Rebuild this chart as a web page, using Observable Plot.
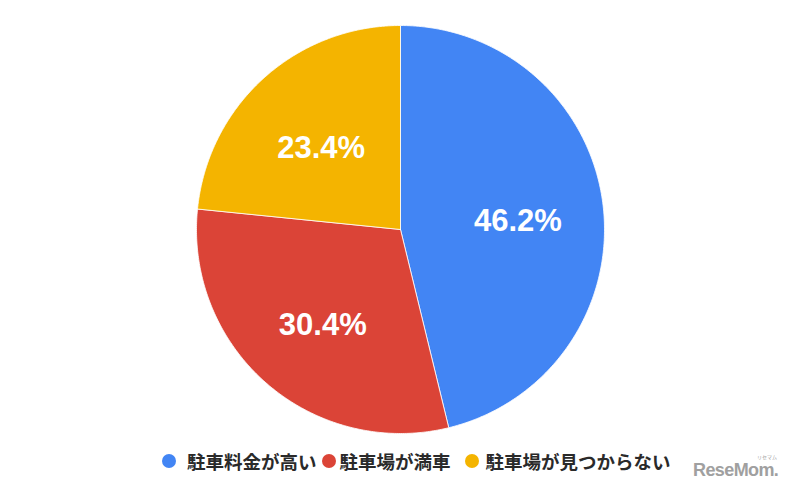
<!DOCTYPE html>
<html>
<head>
<meta charset="utf-8">
<script src="https://cdn.jsdelivr.net/npm/d3@7"></script>
<script src="https://cdn.jsdelivr.net/npm/@observablehq/plot@0.6"></script>
<style>
  html, body { margin: 0; padding: 0; background: #fff; }
  #wrap { position: relative; width: 800px; height: 495px; overflow: hidden; }
  #legend { position: absolute; left: 162px; top: 449px; display: flex; align-items: center;
    font-family: "Noto Sans CJK JP", sans-serif; font-size: 18.5px; font-weight: 700; color: #2a2a2a; height: 24px; }
  .item { display: flex; align-items: center; }
  .sw { width: 14px; height: 14px; border-radius: 50%; }
  #mark { position: absolute; left: 693px; top: 460px; width: 100px; white-space: nowrap; font-family: "Liberation Sans", Arial, sans-serif; color: #a0a0a0; }
  #mark .big { font-size: 18px; line-height: 20px; font-weight: bold; letter-spacing: -0.6px; }
  #mark .small { position: absolute; left: 64px; top: -6px; white-space: nowrap; font-size: 5px; line-height: 5px; font-family: "Noto Sans CJK JP", sans-serif; }
</style>
</head>
<body>
<div id="wrap">
  <div id="chart"></div>
  <div id="legend"></div>
  <div id="mark"><span class="small">リセマム</span><span class="big">ReseMom.</span></div>
</div>
<script>
const categories = ["駐車料金が高い", "駐車場が満車", "駐車場が見つからない"];
const values = [46.2, 30.4, 23.4];
const colors = ["#4285F4", "#DB4437", "#F4B400"];
const labels = ["46.2%", "30.4%", "23.4%"];

const W = 800, H = 440, R = 204, CX = 400, CY = 229;
const total = d3.sum(values);

// wedge outlines in unit-circle coordinates (clockwise from 12 o'clock)
const pts = [];
const labelPts = [];
let start = 0;
categories.forEach((cat, i) => {
  const a0 = start / total * 2 * Math.PI;
  const a1 = (start + values[i]) / total * 2 * Math.PI;
  pts.push({cat, x: 0, y: 0});
  const n = 200;
  for (let k = 0; k <= n; k++) {
    const a = a0 + (a1 - a0) * k / n;
    pts.push({cat, x: Math.sin(a), y: Math.cos(a)});
  }
  pts.push({cat, x: 0, y: 0});
  const am = (a0 + a1) / 2;
  const r = 0.58;
  labelPts.push({cat, text: labels[i], x: r * Math.sin(am), y: r * Math.cos(am)});
  start += values[i];
});

const chart = Plot.plot({
  width: W,
  height: H,
  margin: 0,
  x: {domain: [-CX / R, (W - CX) / R], axis: null},
  y: {domain: [-(H - CY) / R, CY / R], axis: null},
  color: {domain: categories, range: colors},
  marks: [
    Plot.line(pts, {x: "x", y: "y", z: "cat", fill: "cat", stroke: "white", strokeWidth: 0.8, curve: "linear"}),
    Plot.text(labelPts, {x: "x", y: "y", text: "text", fill: "white", fontSize: 31, fontWeight: "bold", dy: 6,
      fontFamily: "'Liberation Sans', Arial, sans-serif"})
  ]
});
document.getElementById("chart").appendChild(chart);

const gaps = [[11, 5], [4, 14], [7, 0]]; // [swatch-to-text, after-item]
const legend = document.getElementById("legend");
categories.forEach((c, i) => {
  const it = document.createElement("div");
  it.className = "item";
  it.style.marginRight = gaps[i][1] + "px";
  const sw = document.createElement("span");
  sw.className = "sw";
  sw.style.background = colors[i];
  sw.style.marginRight = gaps[i][0] + "px";
  const t = document.createElement("span");
  t.textContent = c;
  it.appendChild(sw);
  it.appendChild(t);
  legend.appendChild(it);
});
</script>
</body>
</html>
